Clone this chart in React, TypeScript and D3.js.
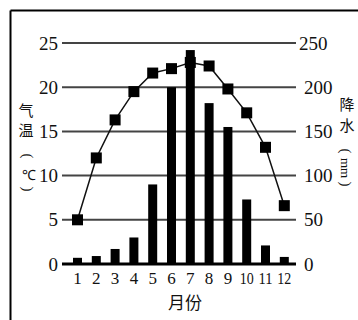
import React from "react";
import * as d3 from "d3";

const months = ["1", "2", "3", "4", "5", "6", "7", "8", "9", "10", "11", "12"];
const temperature = [5.0, 12.0, 16.3, 19.5, 21.6, 22.1, 22.8, 22.4, 19.8, 17.1, 13.2, 6.6];
const precipitation = [7, 9, 17, 30, 90, 200, 242, 182, 155, 73, 21, 8];
const tempTicks = [0, 5, 10, 15, 20, 25];
const precTicks = [0, 50, 100, 150, 200, 250];

const W = 358;
const H = 320;
const SERIF = "'Liberation Serif', 'Times New Roman', serif";
const CJK = "'Noto Sans CJK SC', sans-serif";

export default function App() {
  const x = d3.scaleBand<string>().domain(months).range([68.1, 293.7]).padding(0);
  const cx = (m: string) => (x(m) as number) + x.bandwidth() / 2;
  const yT = d3.scaleLinear().domain([0, 25]).range([264, 43]);
  const yP = d3.scaleLinear().domain([0, 250]).range([264, 43]);
  const line = d3
    .line<number>()
    .x((_, i) => cx(months[i]))
    .y((d) => yT(d));
  const barW = 9;
  const mk = 11;
  const gx0 = 62;
  const gx1 = 296;

  const paren = (px: number, py: number, ch: string, key: string) => (
    <text
      key={key}
      x={0}
      y={0}
      dy="0.35em"
      textAnchor="middle"
      transform={`translate(${px},${py}) rotate(90)`}
      style={{ fontFamily: SERIF, fontSize: 15 }}
      fill="#111"
    >
      {ch}
    </text>
  );

  return (
    <svg
      width={W}
      height={H}
      style={{ position: "absolute", left: 0, top: 0, background: "#fff" }}
    >
      {/* frame */}
      <line x1={10.5} y1={10.5} x2={W} y2={10.5} stroke="#000" strokeWidth={2} />
      <line x1={10.5} y1={10.5} x2={10.5} y2={H} stroke="#000" strokeWidth={2} />

      {/* gridlines */}
      {tempTicks.map((t) => (
        <line
          key={"g" + t}
          x1={gx0}
          x2={gx1}
          y1={yT(t)}
          y2={yT(t)}
          stroke={t === 0 ? "#000" : "#444"}
          strokeWidth={t === 0 ? 3 : 2}
        />
      ))}

      {/* left tick labels */}
      {tempTicks.map((t) => (
        <text
          key={"lt" + t}
          x={58}
          y={yT(t)}
          dy="0.35em"
          textAnchor="end"
          style={{ fontFamily: SERIF, fontSize: 19 }}
          fill="#111"
        >
          {t}
        </text>
      ))}

      {/* right tick labels */}
      {precTicks.map((t) => (
        <text
          key={"rt" + t}
          x={t === 250 ? 299 : 304}
          y={yP(t)}
          dy="0.35em"
          textAnchor="start"
          style={{ fontFamily: SERIF, fontSize: 19 }}
          fill="#111"
        >
          {t}
        </text>
      ))}

      {/* bars */}
      {precipitation.map((p, i) => (
        <rect
          key={"b" + i}
          x={cx(months[i]) - barW / 2}
          y={yP(p)}
          width={barW}
          height={yP(0) - yP(p)}
          fill="#000"
        />
      ))}

      {/* temperature line */}
      <path d={line(temperature) || ""} fill="none" stroke="#111" strokeWidth={1.5} />
      {temperature.map((t, i) => (
        <rect
          key={"m" + i}
          x={cx(months[i]) - mk / 2}
          y={yT(t) - mk / 2}
          width={mk}
          height={mk}
          fill="#000"
        />
      ))}

      {/* month labels */}
      {months.map((m) => (
        <text
          key={"x" + m}
          x={cx(m)}
          y={284}
          textAnchor="middle"
          style={{ fontFamily: SERIF, fontSize: 17 }}
          fill="#111"
          {...(m.length > 1 ? { textLength: 14, lengthAdjust: "spacingAndGlyphs" } : {})}
        >
          {m}
        </text>
      ))}

      {/* x axis title */}
      <text
        x={185}
        y={309}
        textAnchor="middle"
        style={{ fontFamily: CJK, fontSize: 17 }}
        fill="#111"
      >
        月份
      </text>

      {/* left axis title */}
      <g style={{ fontFamily: CJK, fontSize: 15 }} fill="#111" textAnchor="middle">
        <text x={26} y={116}>气</text>
        <text x={26} y={136}>温</text>
      </g>
      {paren(28, 156, "(", "lp")}
      <text
        x={29}
        y={180}
        textAnchor="middle"
        style={{ fontFamily: SERIF, fontSize: 14 }}
        fill="#111"
      >
        ℃
      </text>
      {paren(28, 189, ")", "rp")}

      {/* right axis title */}
      <g style={{ fontFamily: CJK, fontSize: 15 }} fill="#111" textAnchor="middle">
        <text x={347} y={110}>降</text>
        <text x={347} y={131}>水</text>
      </g>
      {paren(346, 151, "(", "lp2")}
      <text
        x={0}
        y={0}
        dy="0.35em"
        textAnchor="middle"
        transform="translate(346,168) rotate(90)"
        style={{ fontFamily: SERIF, fontSize: 13 }}
        fill="#111"
      >
        mm
      </text>
      {paren(346, 184, ")", "rp2")}
    </svg>
  );
}
